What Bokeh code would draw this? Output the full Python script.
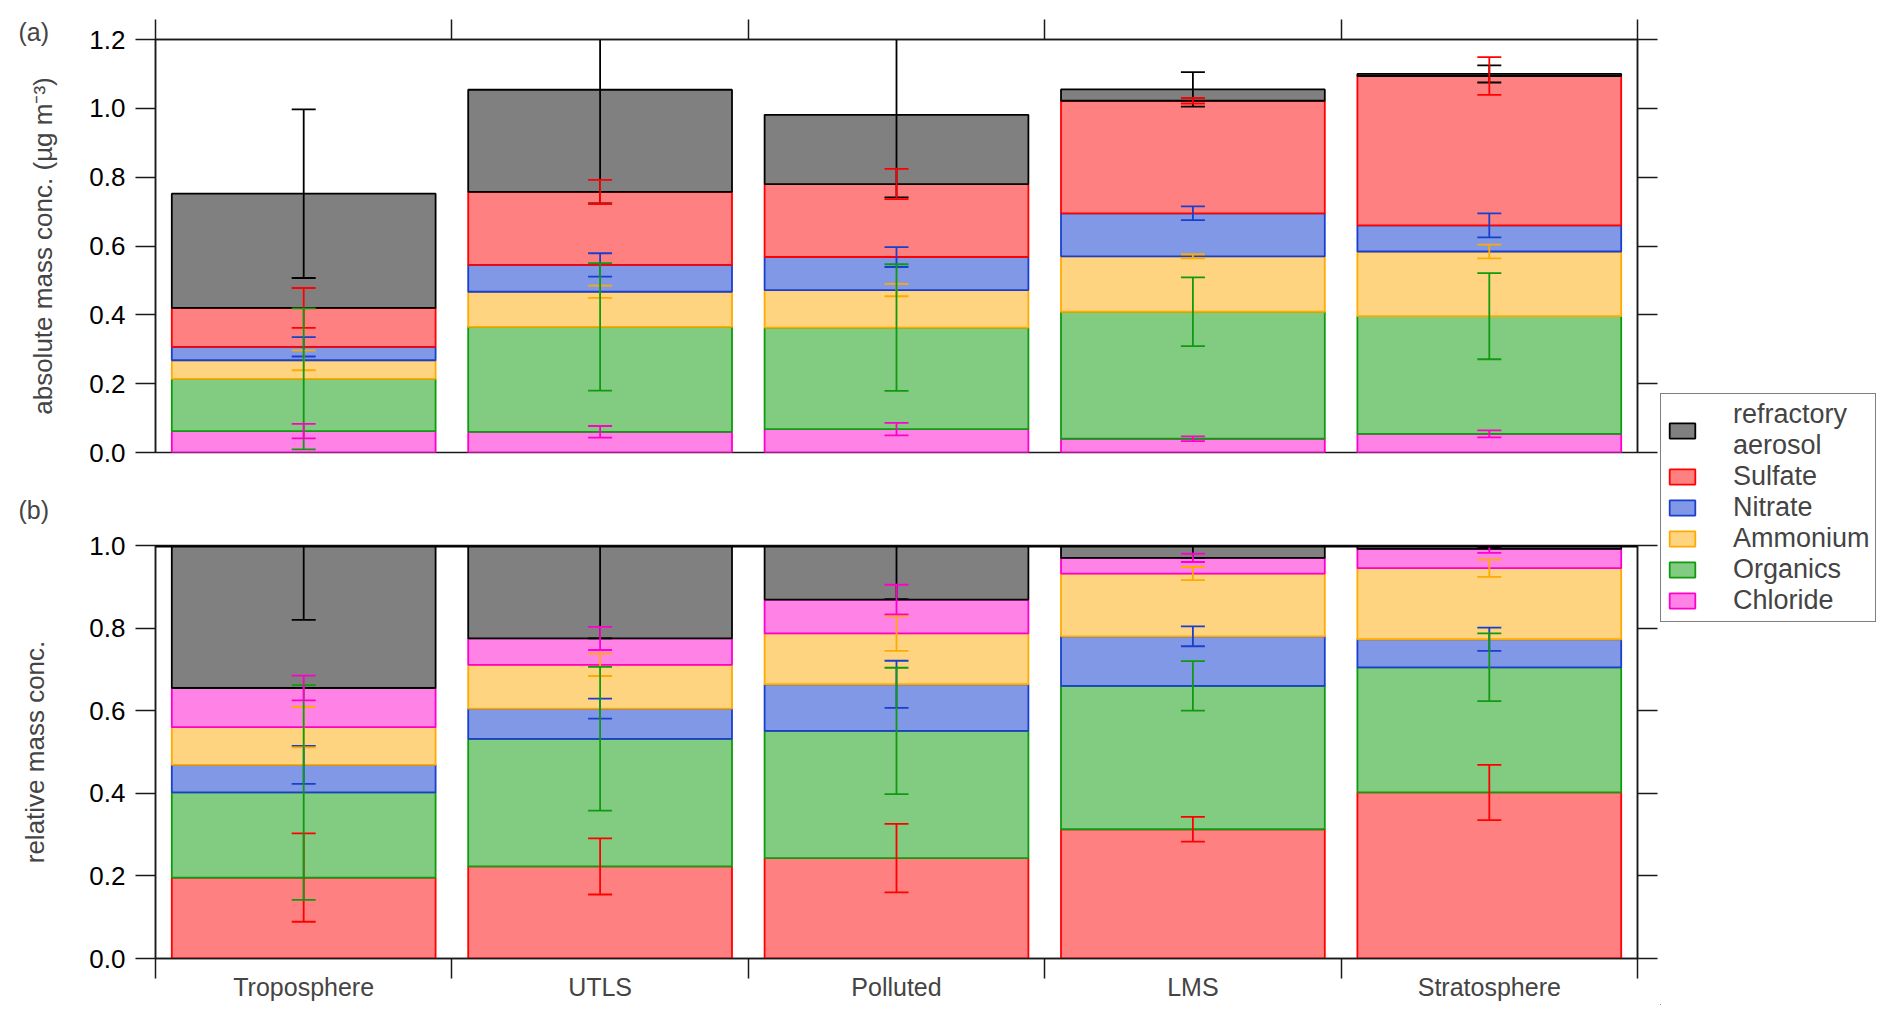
import numpy as np
from bokeh.embed import file_html
from bokeh.layouts import column, row
from bokeh.models import (ColumnDataSource, FixedTicker, Legend, LegendItem,
                          LinearAxis, Range1d, Span, Title)
from bokeh.plotting import figure
from bokeh.resources import INLINE

# ---- data -------------------------------------------------------------
categories = ["Troposphere", "UTLS", "Polluted", "LMS", "Stratosphere"]

# (a) absolute mass concentration, ug m-3
abs_refractory = [0.332, 0.297, 0.201, 0.033, 0.006]
abs_sulfate = [0.113, 0.212, 0.212, 0.327, 0.434]
abs_nitrate = [0.039, 0.078, 0.096, 0.125, 0.076]
abs_ammonium = [0.054, 0.102, 0.109, 0.161, 0.188]
abs_organics = [0.152, 0.305, 0.295, 0.369, 0.342]
abs_chloride = [0.062, 0.060, 0.068, 0.040, 0.054]

abs_refractory_err = [0.245, 0.330, 0.240, 0.050, 0.025]
abs_sulfate_err = [0.058, 0.035, 0.044, 0.008, 0.055]
abs_nitrate_err = [0.028, 0.034, 0.029, 0.020, 0.035]
abs_ammonium_err = [0.029, 0.018, 0.018, 0.006, 0.020]
abs_organics_err = [0.205, 0.185, 0.184, 0.100, 0.125]
abs_chloride_err = [0.021, 0.017, 0.018, 0.007, 0.010]

# (b) relative mass concentration
rel_refractory = [0.345, 0.225, 0.131, 0.030, 0.008]
rel_sulfate = [0.196, 0.223, 0.243, 0.313, 0.402]
rel_nitrate = [0.067, 0.073, 0.113, 0.120, 0.068]
rel_ammonium = [0.091, 0.106, 0.123, 0.152, 0.172]
rel_organics = [0.206, 0.309, 0.308, 0.347, 0.303]
rel_chloride = [0.095, 0.064, 0.082, 0.038, 0.047]

rel_refractory_err = [0.180, 0.225, 0.130, 0.030, 0.005]
rel_sulfate_err = [0.107, 0.068, 0.083, 0.030, 0.067]
rel_nitrate_err = [0.046, 0.024, 0.057, 0.024, 0.028]
rel_ammonium_err = [0.049, 0.027, 0.042, 0.016, 0.021]
rel_organics_err = [0.260, 0.174, 0.153, 0.060, 0.082]
rel_chloride_err = [0.030, 0.028, 0.036, 0.010, 0.010]

species = ["refractory", "sulfate", "nitrate", "ammonium", "organics", "chloride"]
legend_labels = ["refractory\naerosol", "Sulfate", "Nitrate", "Ammonium",
                 "Organics", "Chloride"]

abs_vals = dict(zip(species, [abs_refractory, abs_sulfate, abs_nitrate,
                              abs_ammonium, abs_organics, abs_chloride]))
abs_errs = dict(zip(species, [abs_refractory_err, abs_sulfate_err, abs_nitrate_err,
                              abs_ammonium_err, abs_organics_err, abs_chloride_err]))
rel_vals = dict(zip(species, [rel_refractory, rel_sulfate, rel_nitrate,
                              rel_ammonium, rel_organics, rel_chloride]))
rel_errs = dict(zip(species, [rel_refractory_err, rel_sulfate_err, rel_nitrate_err,
                              rel_ammonium_err, rel_organics_err, rel_chloride_err]))

# stacking order, bottom -> top
abs_order = ["chloride", "organics", "ammonium", "nitrate", "sulfate", "refractory"]
rel_order = ["sulfate", "organics", "nitrate", "ammonium", "chloride", "refractory"]

edge = {"refractory": "#000000", "sulfate": "#FF0000", "nitrate": "#1A3FCC",
        "ammonium": "#FFAA00", "organics": "#109A10", "chloride": "#FF00CC"}
fill = {"refractory": "#808080", "sulfate": "#FF8080", "nitrate": "#8198E6",
        "ammonium": "#FED480", "organics": "#82CC82", "chloride": "#FF82E6"}

FONT = "Liberation Sans"
AXIS_COLOR = "#1a1a1a"
x_centers = np.arange(len(categories)) + 0.5
boundaries = list(range(len(categories) + 1))


def bare_axis(ax, ticks):
    # ticks only, pointing outwards, no labels
    ax.ticker = FixedTicker(ticks=ticks)
    ax.major_tick_out = 20
    ax.major_tick_in = 0
    ax.minor_tick_line_color = None
    ax.major_tick_line_width = 1.5
    ax.major_tick_line_color = AXIS_COLOR
    ax.axis_line_width = 1.5
    ax.axis_line_color = AXIS_COLOR
    ax.major_label_text_font_size = "1px"
    ax.major_label_text_color = None
    ax.major_label_standoff = 0


def panel_tag(text, standoff, valign):
    # "(a)" / "(b)" in the space above the frame, pushed to the far left
    return Title(text=text, align="left", offset=-137, standoff=standoff,
                 vertical_align=valign, text_font=FONT, text_font_size="25px",
                 text_font_style="normal")


def panel(height, ymax, ticks, vals, errs, order, ylabel, label_gap,
          b_top, b_bottom):
    p = figure(width=1660, height=height, x_range=Range1d(0, len(categories)),
               y_range=Range1d(0, ymax), toolbar_location=None,
               output_backend="svg", x_axis_location=None,
               min_border_left=155, min_border_right=23,
               min_border_top=b_top, min_border_bottom=b_bottom)
    p.grid.visible = False
    p.outline_line_color = AXIS_COLOR
    p.outline_line_width = 1.5

    src = ColumnDataSource(dict(x=x_centers, **{k: vals[k] for k in order}))
    p.vbar_stack(order, x="x", width=0.89, source=src,
                 fill_color=[fill[k] for k in order],
                 line_color=[edge[k] for k in order], line_width=1.8)

    # error bars sit on the top of each stacked segment
    tops = dict(zip(order, np.cumsum([vals[k] for k in order], axis=0)))
    for k in species:
        top = tops[k]
        err = np.array(errs[k])
        es = ColumnDataSource(dict(x=x_centers, hi=top + err, lo=top - err))
        p.segment(x0="x", y0="lo", x1="x", y1="hi", source=es,
                  line_color=edge[k], line_width=1.8)
        p.scatter("x", "hi", source=es, marker="dash", size=24,
                  line_color=edge[k], line_width=1.8)
        p.scatter("x", "lo", source=es, marker="dash", size=24,
                  line_color=edge[k], line_width=1.8)

    ax = p.yaxis[0]
    bare_axis(ax, ticks)
    ax.axis_label = ylabel
    ax.axis_label_text_font = FONT
    ax.axis_label_text_font_size = "26px"
    ax.axis_label_text_font_style = "normal"
    ax.axis_label_standoff = label_gap
    ax.major_label_text_font = FONT
    ax.major_label_text_font_size = "26px"
    ax.major_label_text_color = "black"
    ax.major_label_standoff = 10
    ax.major_label_overrides = {t: f"{t:.1f}" for t in ticks}

    rax = LinearAxis()
    bare_axis(rax, ticks)
    p.add_layout(rax, "right")
    return p


p_top = panel(470, 1.2, [0.0, 0.2, 0.4, 0.6, 0.8, 1.0, 1.2], abs_vals, abs_errs,
              abs_order, "absolute mass conc. (µg m⁻³)", 28, 39, 18)
top_ax = LinearAxis()
bare_axis(top_ax, boundaries)
p_top.add_layout(top_ax, "above")
p_top.add_layout(panel_tag("(a)", -52, "bottom"), "above")

p_bot = panel(535, 1.0, [0.0, 0.2, 0.4, 0.6, 0.8, 1.0], rel_vals, rel_errs,
              rel_order, "relative mass conc.", 36, 75, 47)
p_bot.add_layout(Span(location=1.0, dimension="width", line_color="black",
                      line_width=4))
bx = LinearAxis(ticker=FixedTicker(ticks=list(x_centers), minor_ticks=boundaries))
bx.major_tick_out = 0
bx.major_tick_in = 0
bx.minor_tick_out = 20
bx.minor_tick_in = 0
bx.minor_tick_line_width = 1.5
bx.minor_tick_line_color = AXIS_COLOR
bx.axis_line_width = 1.5
bx.axis_line_color = AXIS_COLOR
bx.major_label_overrides = {float(x): c for x, c in zip(x_centers, categories)}
bx.major_label_text_font = FONT
bx.major_label_text_font_size = "25px"
bx.major_label_standoff = -6
p_bot.add_layout(bx, "below")
p_bot.add_layout(panel_tag("(b)", 40, "top"), "above")

# legend in its own narrow canvas to the right
p_leg = figure(width=216, height=1005, toolbar_location=None, output_backend="svg",
               x_range=Range1d(0, 1), y_range=Range1d(0, 1),
               x_axis_location=None, y_axis_location=None, min_border=0)
p_leg.grid.visible = False
p_leg.outline_line_color = None
items = []
for k, lab in zip(species, legend_labels):
    # swatch carrier, kept outside the visible range
    r = p_leg.vbar(x=[-5], top=[-5], width=0.1, fill_color=fill[k],
                   line_color=edge[k], line_width=1.8)
    items.append(LegendItem(label=lab, renderers=[r]))
legend = Legend(items=items, location=(0, 383))
legend.border_line_color = "black"
legend.border_line_width = 1.5
legend.padding = 5
legend.margin = 0
legend.spacing = 0
legend.label_standoff = 35
legend.glyph_width = 32
legend.glyph_height = 19
legend.label_height = 28
legend.label_text_font = FONT
legend.label_text_font_size = "27px"
legend.label_text_line_height = 1.12
p_leg.add_layout(legend)

layout = row(column(p_top, p_bot), p_leg)
open("out.html", "w").write(file_html(layout, INLINE))
